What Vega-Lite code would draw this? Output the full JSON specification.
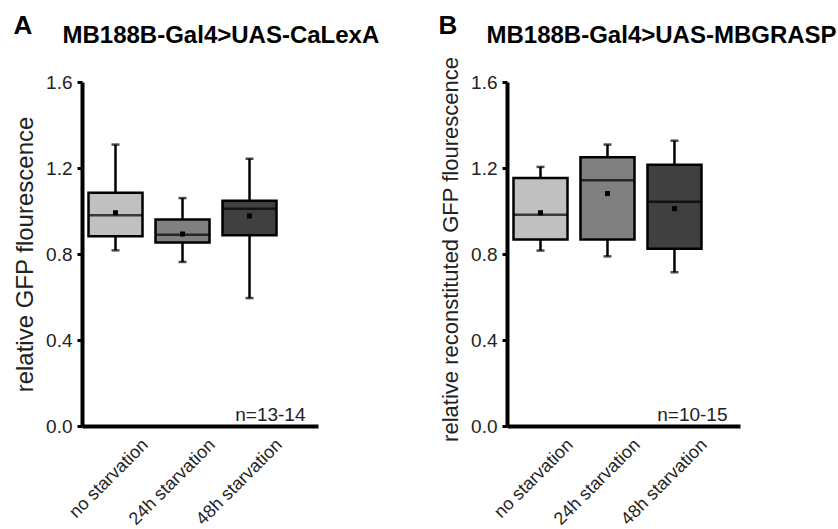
{
  "$schema": "https://vega.github.io/schema/vega-lite/v6.json",
  "background": "white",
  "padding": {"left": 13, "top": 12, "right": 5, "bottom": 5},
  "config": {
    "view": {"stroke": null},
    "font": "Liberation Sans",
    "axisY": {"domainWidth": 4, "domainColor": "black", "tickWidth": 3, "tickSize": 5, "tickColor": "black", "labelFontSize": 19, "labelColor": "#222", "labelPadding": 5, "titleFontSize": 24, "titleFontWeight": "normal", "titleColor": "#222", "titlePadding": 8, "grid": false},
    "axisX": {"domainWidth": 4, "domainColor": "black", "ticks": false, "tickSize": 0, "labelFontSize": 18, "labelColor": "#222", "labelAngle": -45, "labelAlign": "right", "labelBaseline": "middle", "labelOffset": 30, "labelPadding": 16, "titleFontSize": 19, "titleFontWeight": "normal", "titleColor": "#222", "titleAlign": "right", "titleBaseline": "alphabetic", "titleX": 223, "titleY": -6, "grid": false}
  },
  "datasets": {
    "calexa": [
      {"group": "no starvation", "lower": 0.817, "q1": 0.882, "median": 0.98, "q3": 1.085, "upper": 1.309, "mean": 0.992},
      {"group": "24h starvation", "lower": 0.763, "q1": 0.853, "median": 0.89, "q3": 0.961, "upper": 1.06, "mean": 0.893},
      {"group": "48h starvation", "lower": 0.595, "q1": 0.887, "median": 1.011, "q3": 1.048, "upper": 1.243, "mean": 0.977}
    ],
    "grasp": [
      {"group": "no starvation", "lower": 0.816, "q1": 0.868, "median": 0.983, "q3": 1.153, "upper": 1.205, "mean": 0.992},
      {"group": "24h starvation", "lower": 0.789, "q1": 0.868, "median": 1.143, "q3": 1.25, "upper": 1.309, "mean": 1.081},
      {"group": "48h starvation", "lower": 0.715, "q1": 0.825, "median": 1.043, "q3": 1.215, "upper": 1.327, "mean": 1.011}
    ]
  },
  "bounds": "flush",
  "spacing": 189,
  "hconcat": [
    {
      "width": 236,
      "height": 344,
      "data": {"name": "calexa"},
      "resolve": {"axis": {"x": "independent", "y": "independent"}},
      "layer": [
        {"mark": {"type": "rule", "color": "black", "strokeWidth": 2.5},
         "encoding": {
           "x": {"field": "group", "type": "nominal", "sort": ["no starvation", "24h starvation", "48h starvation"], "scale": {"paddingInner": 0, "paddingOuter": 0.261, "align": 0}, "axis": {"title": "n=13-14"}},
           "y": {"field": "lower", "type": "quantitative", "scale": {"domain": [0, 1.6], "nice": false}, "axis": {"title": "relative GFP flourescence", "values": [0, 0.4, 0.8, 1.2, 1.6], "format": ".1f"}},
           "y2": {"field": "upper"}}},
        {"mark": {"type": "tick", "color": "black", "thickness": 2.5, "size": 8},
         "encoding": {"x": {"field": "group", "type": "nominal", "sort": ["no starvation", "24h starvation", "48h starvation"], "axis": null}, "y": {"field": "lower", "type": "quantitative", "axis": null}}},
        {"mark": {"type": "tick", "color": "black", "thickness": 2.5, "size": 8},
         "encoding": {"x": {"field": "group", "type": "nominal", "sort": ["no starvation", "24h starvation", "48h starvation"], "axis": null}, "y": {"field": "upper", "type": "quantitative", "axis": null}}},
        {"mark": {"type": "bar", "size": 54, "stroke": "black", "strokeWidth": 2.5},
         "encoding": {"x": {"field": "group", "type": "nominal", "sort": ["no starvation", "24h starvation", "48h starvation"], "axis": null}, "y": {"field": "q1", "type": "quantitative", "axis": null}, "y2": {"field": "q3"},
           "color": {"field": "group", "type": "nominal", "scale": {"domain": ["no starvation", "24h starvation", "48h starvation"], "range": ["#c0c0c0", "#808080", "#404040"]}, "legend": null}}},
        {"mark": {"type": "tick", "color": "black", "thickness": 2.5, "size": 54},
         "encoding": {
           "x": {"field": "group", "type": "nominal", "sort": ["no starvation", "24h starvation", "48h starvation"], "axis": {"orient": "top", "title": "MB188B-Gal4>UAS-CaLexA", "labels": false, "ticks": false, "domain": false, "titleFontSize": 24, "titleFontWeight": "bold", "titleColor": "black", "titleAlign": "left", "titleBaseline": "alphabetic", "titleX": -20, "titleY": -40}},
           "y": {"field": "median", "type": "quantitative", "axis": {"orient": "right", "title": "A", "labels": false, "ticks": false, "domain": false, "titleFontSize": 26, "titleFontWeight": "bold", "titleColor": "black", "titleAngle": 0, "titleAlign": "left", "titleBaseline": "alphabetic", "titleX": -305, "titleY": -49}}}},
        {"mark": {"type": "point", "shape": "square", "filled": true, "color": "black", "size": 25, "opacity": 1},
         "encoding": {"x": {"field": "group", "type": "nominal", "sort": ["no starvation", "24h starvation", "48h starvation"], "axis": null}, "y": {"field": "mean", "type": "quantitative", "axis": null}}}
      ]
    },
    {
      "width": 233,
      "height": 344,
      "data": {"name": "grasp"},
      "resolve": {"axis": {"x": "independent", "y": "independent"}},
      "layer": [
        {"mark": {"type": "rule", "color": "black", "strokeWidth": 2.5},
         "encoding": {
           "x": {"field": "group", "type": "nominal", "sort": ["no starvation", "24h starvation", "48h starvation"], "scale": {"paddingInner": 0, "paddingOuter": 0.239, "align": 0}, "axis": {"title": "n=10-15", "titleX": 220}},
           "y": {"field": "lower", "type": "quantitative", "scale": {"domain": [0, 1.6], "nice": false}, "axis": {"title": "relative reconstituted GFP flourescence", "titleFontSize": 22, "values": [0, 0.4, 0.8, 1.2, 1.6], "format": ".1f", "titleY": 167}},
           "y2": {"field": "upper"}}},
        {"mark": {"type": "tick", "color": "black", "thickness": 2.5, "size": 8},
         "encoding": {"x": {"field": "group", "type": "nominal", "sort": ["no starvation", "24h starvation", "48h starvation"], "axis": null}, "y": {"field": "lower", "type": "quantitative", "axis": null}}},
        {"mark": {"type": "tick", "color": "black", "thickness": 2.5, "size": 8},
         "encoding": {"x": {"field": "group", "type": "nominal", "sort": ["no starvation", "24h starvation", "48h starvation"], "axis": null}, "y": {"field": "upper", "type": "quantitative", "axis": null}}},
        {"mark": {"type": "bar", "size": 54, "stroke": "black", "strokeWidth": 2.5},
         "encoding": {"x": {"field": "group", "type": "nominal", "sort": ["no starvation", "24h starvation", "48h starvation"], "axis": null}, "y": {"field": "q1", "type": "quantitative", "axis": null}, "y2": {"field": "q3"},
           "color": {"field": "group", "type": "nominal", "scale": {"domain": ["no starvation", "24h starvation", "48h starvation"], "range": ["#c0c0c0", "#808080", "#404040"]}, "legend": null}}},
        {"mark": {"type": "tick", "color": "black", "thickness": 2.5, "size": 54},
         "encoding": {
           "x": {"field": "group", "type": "nominal", "sort": ["no starvation", "24h starvation", "48h starvation"], "axis": {"orient": "top", "title": "MB188B-Gal4>UAS-MBGRASP", "labels": false, "ticks": false, "domain": false, "titleFontSize": 24, "titleFontWeight": "bold", "titleColor": "black", "titleAlign": "left", "titleBaseline": "alphabetic", "titleX": -21, "titleY": -40}},
           "y": {"field": "median", "type": "quantitative", "axis": {"orient": "right", "title": "B", "labels": false, "ticks": false, "domain": false, "titleFontSize": 26, "titleFontWeight": "bold", "titleColor": "black", "titleAngle": 0, "titleAlign": "left", "titleBaseline": "alphabetic", "titleX": -302, "titleY": -49}}}},
        {"mark": {"type": "point", "shape": "square", "filled": true, "color": "black", "size": 25, "opacity": 1},
         "encoding": {"x": {"field": "group", "type": "nominal", "sort": ["no starvation", "24h starvation", "48h starvation"], "axis": null}, "y": {"field": "mean", "type": "quantitative", "axis": null}}}
      ]
    }
  ]
}
